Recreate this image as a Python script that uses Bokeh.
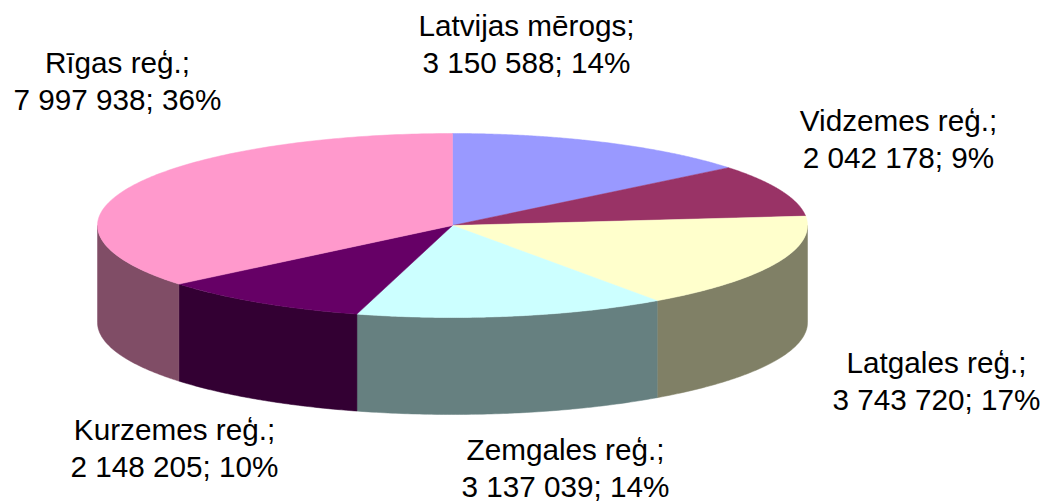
import numpy as np
from bokeh.plotting import figure
from bokeh.models import ColumnDataSource
from bokeh.core.properties import value
from bokeh.embed import file_html
from bokeh.resources import INLINE

regions = ["Latvijas mērogs", "Vidzemes reģ.", "Latgales reģ.", "Zemgales reģ.", "Kurzemes reģ.", "Rīgas reģ."]
amounts = [3150588, 2042178, 3743720, 3137039, 2148205, 7997938]
amount_labels = ["3 150 588", "2 042 178", "3 743 720", "3 137 039", "2 148 205", "7 997 938"]
percents = [14, 9, 17, 14, 10, 36]
top_colors = ["#9999FF", "#993366", "#FFFFCC", "#CCFFFF", "#660066", "#FF99CC"]
side_colors = ["#4D4D80", "#4D1A33", "#808066", "#668080", "#330033", "#804D66"]
label_x = [526, 898, 936, 565, 174, 117]
label_y = [25, 120, 362, 449, 429, 62]

# layout of the projected pie, in image pixels
CX, CY, RX, RY, DEPTH = 452.0, 225.0, 355.0, 92.0, 97.0
FONT = "Liberation Sans"
FONT_SIZE = "29.7px"
LINE_GAP = 37

p = figure(width=1044, height=504, x_range=(0, 1044), y_range=(504, 0),
           output_backend="svg", toolbar_location=None, min_border=0)
p.axis.visible = False
p.grid.visible = False
p.outline_line_color = None
p.background_fill_color = "white"
p.border_fill_color = "white"

total = sum(amounts)
edges = np.cumsum([0] + amounts) / total * 2 * np.pi


def ex(t):
    return CX + RX * np.sin(t)


def ey(t):
    return CY - RY * np.cos(t)


# sides: only the part of each slice on the front half of the rim
sx, sy, sc = [], [], []
for a, b, c in zip(edges[:-1], edges[1:], side_colors):
    lo, hi = max(a, np.pi / 2), min(b, 3 * np.pi / 2)
    if hi > lo:
        t = np.linspace(lo, hi, 80)
        sx.append(np.concatenate([ex(t), ex(t[::-1])]).tolist())
        sy.append(np.concatenate([ey(t), ey(t[::-1]) + DEPTH]).tolist())
        sc.append(c)
p.patches(sx, sy, fill_color=sc, line_color=sc, line_width=0.5)

# tops
tx, ty = [], []
for a, b in zip(edges[:-1], edges[1:]):
    t = np.linspace(a, b, 160)
    tx.append([CX] + ex(t).tolist())
    ty.append([CY] + ey(t).tolist())
p.patches(tx, ty, fill_color=top_colors, line_color=top_colors, line_width=0.5)

# labels
src1 = ColumnDataSource(dict(x=label_x, y=label_y, t=[r + ";" for r in regions]))
src2 = ColumnDataSource(dict(x=label_x, y=[y + LINE_GAP for y in label_y],
                             t=[f"{a}; {q}%" for a, q in zip(amount_labels, percents)]))
for s in (src1, src2):
    p.text("x", "y", text="t", source=s, text_font=value(FONT), text_font_size=value(FONT_SIZE),
           text_align="center", text_baseline="middle", text_color="black")

open("out.html", "w").write(file_html(p, INLINE))
